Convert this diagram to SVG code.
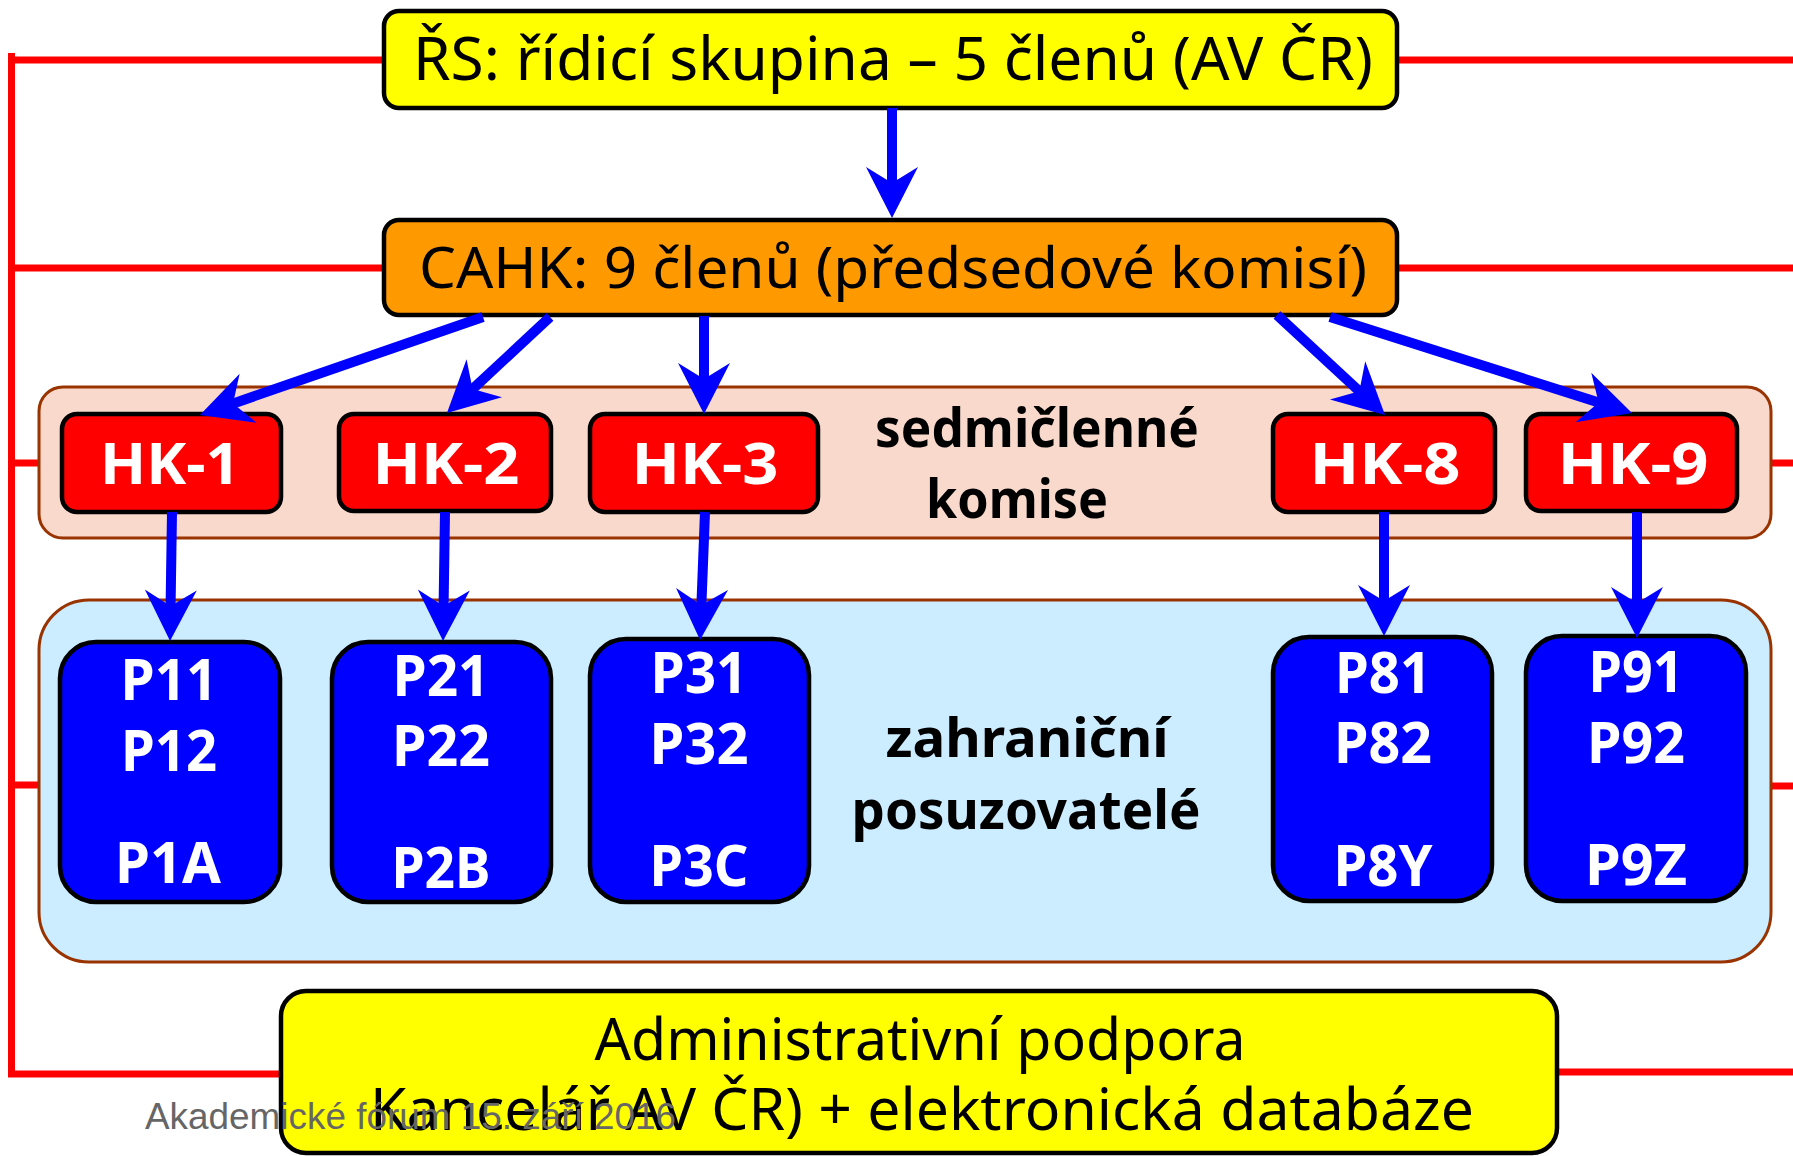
<svg xmlns="http://www.w3.org/2000/svg" width="1793" height="1156" viewBox="0 0 1793 1156">
<style>
.red{stroke:#FF0000;stroke-width:7;fill:none}
.band{stroke:#993300;stroke-width:3}
.box{stroke:#000;stroke-width:4.5}
.conn{stroke:#0000FF;stroke-width:10;fill:none;marker-end:url(#ah)}
.t{font-family:"Noto Sans","DejaVu Sans",sans-serif;fill:#000;text-anchor:middle}
.w{font-family:"Noto Sans","DejaVu Sans",sans-serif;font-weight:bold;fill:#fff;text-anchor:middle}
.b{font-family:"Noto Sans","DejaVu Sans",sans-serif;font-weight:bold;fill:#000;text-anchor:middle}
</style>
<defs>
<marker id="ah" markerUnits="userSpaceOnUse" viewBox="-52 -27 53 54" refX="-30" refY="0" markerWidth="53" markerHeight="54" orient="auto">
<path d="M0,0 L-51,-26 L-35,0 L-51,26 Z" fill="#0000FF"/>
</marker>
</defs>
<rect width="1793" height="1156" fill="#fff"/>
<g id="red-lines">
<path class="red" d="M11.5,53 V1075"/>
<path class="red" d="M8,60 H385 M1397,60 H1793"/>
<path class="red" d="M8,268 H385 M1397,268 H1793"/>
<path class="red" d="M8,463 H40 M1770,463 H1793"/>
<path class="red" d="M8,785 H40 M1770,786 H1793"/>
<path class="red" d="M8,1074 H282 M1555,1072 H1793"/>
</g>
<g id="band-komise">
<rect class="band" x="39" y="387" width="1732" height="151" rx="24" fill="#F8D9CC"/>
<text class="b" x="1037" y="447" font-size="54" textLength="324" lengthAdjust="spacingAndGlyphs">sedmičlenné</text>
<text class="b" x="1017" y="518" font-size="54" textLength="182" lengthAdjust="spacingAndGlyphs">komise</text>
</g>
<g id="band-posuzovatele">
<rect class="band" x="39" y="600" width="1732" height="362" rx="50" fill="#CCECFF"/>
<text class="b" x="1027" y="757" font-size="54" textLength="283" lengthAdjust="spacingAndGlyphs">zahraniční</text>
<text class="b" x="1026" y="829" font-size="54" textLength="349" lengthAdjust="spacingAndGlyphs">posuzovatelé</text>
</g>
<g id="rs">
<rect class="box" x="384" y="11" width="1013" height="97" rx="15" fill="#FFFF00"/>
<text class="t" x="893" y="80" font-size="60" textLength="960" lengthAdjust="spacingAndGlyphs">ŘS: řídicí skupina – 5 členů (AV ČR)</text>
</g>
<g id="cahk">
<rect class="box" x="384" y="220" width="1013" height="95" rx="15" fill="#FF9900"/>
<text class="t" x="893" y="288" font-size="56" textLength="948" lengthAdjust="spacingAndGlyphs">CAHK: 9 členů (předsedové komisí)</text>
</g>
<g id="hk1">
<rect class="box" x="62" y="414" width="219" height="98" rx="15" fill="#FF0000"/>
<text class="w" x="170" y="484" font-size="58" textLength="140" lengthAdjust="spacingAndGlyphs">HK-1</text>
</g>
<g id="hk2">
<rect class="box" x="339" y="414" width="212" height="97" rx="15" fill="#FF0000"/>
<text class="w" x="446" y="484" font-size="58" textLength="147" lengthAdjust="spacingAndGlyphs">HK-2</text>
</g>
<g id="hk3">
<rect class="box" x="590" y="414" width="228" height="98" rx="15" fill="#FF0000"/>
<text class="w" x="705" y="484" font-size="58" textLength="147" lengthAdjust="spacingAndGlyphs">HK-3</text>
</g>
<g id="hk8">
<rect class="box" x="1273" y="414" width="222" height="98" rx="15" fill="#FF0000"/>
<text class="w" x="1385" y="484" font-size="58" textLength="151" lengthAdjust="spacingAndGlyphs">HK-8</text>
</g>
<g id="hk9">
<rect class="box" x="1526" y="414" width="211" height="97" rx="15" fill="#FF0000"/>
<text class="w" x="1633" y="484" font-size="58" textLength="151" lengthAdjust="spacingAndGlyphs">HK-9</text>
</g>
<g id="p1">
<rect class="box" x="60" y="642" width="220" height="260" rx="36" fill="#0000FF"/>
<text class="w" x="169" y="700" font-size="58" textLength="97" lengthAdjust="spacingAndGlyphs">P11</text>
<text class="w" x="169" y="771" font-size="58" textLength="96" lengthAdjust="spacingAndGlyphs">P12</text>
<text class="w" x="168" y="883" font-size="58" textLength="106" lengthAdjust="spacingAndGlyphs">P1A</text>
</g>
<g id="p2">
<rect class="box" x="332" y="642" width="219" height="260" rx="36" fill="#0000FF"/>
<text class="w" x="441" y="696" font-size="58" textLength="97" lengthAdjust="spacingAndGlyphs">P21</text>
<text class="w" x="441" y="766" font-size="58" textLength="98" lengthAdjust="spacingAndGlyphs">P22</text>
<text class="w" x="441" y="888" font-size="58" textLength="99" lengthAdjust="spacingAndGlyphs">P2B</text>
</g>
<g id="p3">
<rect class="box" x="590" y="639" width="219" height="263" rx="36" fill="#0000FF"/>
<text class="w" x="699" y="693" font-size="58" textLength="97" lengthAdjust="spacingAndGlyphs">P31</text>
<text class="w" x="699" y="764" font-size="58" textLength="99" lengthAdjust="spacingAndGlyphs">P32</text>
<text class="w" x="699" y="886" font-size="58" textLength="99" lengthAdjust="spacingAndGlyphs">P3C</text>
</g>
<g id="p8">
<rect class="box" x="1273" y="637" width="219" height="264" rx="36" fill="#0000FF"/>
<text class="w" x="1383" y="693" font-size="58" textLength="96" lengthAdjust="spacingAndGlyphs">P81</text>
<text class="w" x="1383" y="763" font-size="58" textLength="98" lengthAdjust="spacingAndGlyphs">P82</text>
<text class="w" x="1383" y="886" font-size="58" textLength="99" lengthAdjust="spacingAndGlyphs">P8Y</text>
</g>
<g id="p9">
<rect class="box" x="1526" y="636" width="220" height="265" rx="36" fill="#0000FF"/>
<text class="w" x="1636" y="692" font-size="58" textLength="95" lengthAdjust="spacingAndGlyphs">P91</text>
<text class="w" x="1636" y="763" font-size="58" textLength="98" lengthAdjust="spacingAndGlyphs">P92</text>
<text class="w" x="1636" y="885" font-size="58" textLength="102" lengthAdjust="spacingAndGlyphs">P9Z</text>
</g>
<g id="admin">
<rect class="box" x="281" y="991" width="1276" height="162" rx="25" fill="#FFFF00"/>
<text class="t" x="920" y="1060" font-size="58" textLength="651" lengthAdjust="spacingAndGlyphs">Administrativní podpora</text>
<text class="t" x="922" y="1130" font-size="58" textLength="1104" lengthAdjust="spacingAndGlyphs">Kancelář AV ČR) + elektronická databáze</text>
</g>
<g id="connectors">
<path class="conn" d="M892,108 L892,188"/>
<path class="conn" d="M483,317 L228.3,405.2"/>
<path class="conn" d="M550,317 L468.9,392.5"/>
<path class="conn" d="M704,316 L704,384"/>
<path class="conn" d="M1277,315 L1363,394.6"/>
<path class="conn" d="M1330,317 L1603.4,403.9"/>
<path class="conn" d="M172,512 L170.5,611"/>
<path class="conn" d="M445,512 L443.5,611"/>
<path class="conn" d="M705,512 L701.2,610"/>
<path class="conn" d="M1384,512 L1384,606"/>
<path class="conn" d="M1637,512 L1637,608"/>
</g>
<text x="145" y="1129" font-family="'Liberation Sans',Arial,sans-serif" font-size="36" fill="#666" textLength="531" lengthAdjust="spacingAndGlyphs">Akademické fórum 15. září 2016</text>
</svg>
